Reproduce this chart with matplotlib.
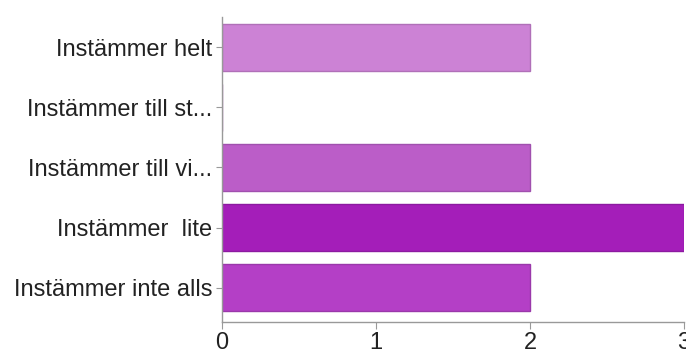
import numpy as np
import matplotlib
matplotlib.use('Agg')
import matplotlib.pyplot as plt

plt.rcParams['font.family'] = ['Liberation Sans', 'DejaVu Sans']

categories = ['Instämmer helt', 'Instämmer till st...', 'Instämmer till vi...',
              'Instämmer  lite', 'Instämmer inte alls']
counts = [2, 0, 2, 3, 2]
colors = ['#cc82d5', '#c070cc', '#bb5dc8', '#a41eb9', '#b43fc6']
edges = ['#b070b8', '#a860b0', '#a050ae', '#8c1aa0', '#9a38aa']

fig = plt.figure(figsize=(6.86, 3.54), dpi=100)
ax = fig.add_axes([0.3236, 0.0904, 0.6735, 0.8616])

y = np.arange(len(categories))
ax.barh(y, counts, height=0.78, color=colors, edgecolor=edges, linewidth=1)

ax.set_ylim(len(categories) - 0.43, -0.5)
ax.set_xlim(0, 3)
ax.set_yticks(y)
ax.set_yticklabels(categories)
ax.set_xticks([0, 1, 2, 3])

for s in ['top', 'right']:
    ax.spines[s].set_visible(False)
for s in ['left', 'bottom']:
    ax.spines[s].set_color('#999999')
    ax.spines[s].set_linewidth(1)

ax.tick_params(axis='y', length=4, color='#999999', labelsize=17, labelcolor='#222222', pad=3)
ax.tick_params(axis='x', length=5, color='#999999', labelsize=17, labelcolor='#222222', pad=2)

fig.savefig('out.png', dpi=100)
